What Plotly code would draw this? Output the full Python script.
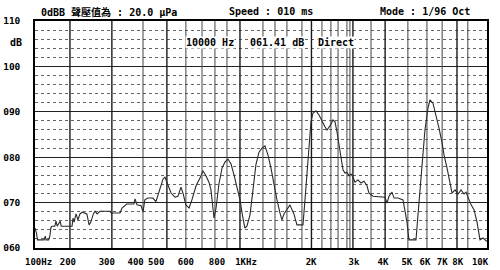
import math
import plotly.graph_objects as go

# ---- data ----
freq_hz = [148, 150, 151.5, 161, 163, 164, 168, 170, 171.5, 173, 178, 180, 182, 187, 189,
           209, 211, 213, 217, 221, 225, 230, 240, 245, 249, 255, 259, 264, 271, 298, 301,
           327, 333, 342, 348, 372, 376, 383, 398, 405, 412, 424, 444, 457, 466, 474, 488,
           497, 511, 526, 546, 561, 577, 588, 604, 622, 639, 664, 689, 708, 728, 749, 763,
           777, 785, 800, 822, 846, 869, 894, 920, 946, 972, 1000, 1028, 1047, 1067, 1098,
           1129, 1160, 1194, 1228, 1262, 1298, 1335, 1373, 1412, 1452, 1479, 1507, 1549,
           1594, 1624, 1654, 1701, 1799, 1833, 1868, 1903, 1938, 1975, 2031, 2089, 2148,
           2209, 2250, 2313, 2380, 2425, 2470, 2517, 2564, 2612, 2661, 2712, 2762, 2815,
           2868, 2922, 3005, 3090, 3177, 3267, 3328, 3455, 3865, 3937, 4011, 4125, 4204,
           4363, 4571, 4656, 4743, 4831, 5159, 5256, 5354, 5454, 5608, 5768, 5876, 6044,
           6217, 6393, 6582, 6699, 6890, 7086, 7220, 7424, 7634, 7850, 8074, 8226, 8383,
           8623, 8869, 9111, 9369, 9637, 9818, 10000]
level_db = [64.4, 63.3, 61.8, 61.8, 62.6, 61.8, 61.8, 62.6, 64.4, 64.8, 64.8, 65.9, 64.8, 65.9, 64.8,
            64.8, 66.6, 65.7, 67.5, 66.2, 67.5, 67.9, 67.5, 65.1, 65.7, 67.5, 68.1, 67.5, 68.1, 68.1, 67.7,
            67.7, 68.8, 69.3, 69.7, 69.7, 70.8, 69.5, 69.3, 67.9, 70.6, 71.0, 71.0, 70.2, 71.7, 73.2, 75.2,
            75.6, 73.9, 72.1, 71.2, 71.4, 73.4, 72.1, 69.5, 68.8, 70.6, 73.7, 75.4, 77.0, 75.9, 74.5, 72.8,
            69.5, 66.6, 68.8, 74.1, 77.6, 78.9, 79.6, 78.5, 76.1, 73.2, 70.6, 66.6, 64.4, 64.8, 67.3,
            72.8, 78.3, 81.1, 82.0, 82.5, 80.5, 77.6, 73.9, 70.6, 67.7, 66.2, 67.5, 68.4,
            69.5, 68.4, 67.5, 65.1, 65.1, 70.6, 77.2, 83.8, 87.8, 89.7, 90.2, 89.3, 87.8,
            86.7, 86.0, 86.9, 88.2, 87.8, 85.6, 82.7, 79.4, 77.2, 76.5, 76.7, 75.9, 76.3,
            75.6, 74.5, 75.0, 74.3, 74.7, 73.7, 72.1, 71.4, 71.2, 69.9, 71.4, 72.3, 71.0,
            71.0, 70.6, 68.4, 65.7, 61.8, 61.8, 67.3, 72.8, 79.4, 86.0, 90.8, 92.6, 91.9,
            89.3, 86.4, 83.1, 80.5, 77.6, 73.9, 72.1, 72.8, 71.9, 72.8, 71.9, 72.3, 71.0,
            69.5, 68.4, 65.7, 61.8, 62.2, 61.8, 61.41]

x_tick_pos = [153, 201, 289, 378, 458, 604, 807, 1058, 1940, 2894, 3790, 4737, 5605, 6583, 7616, 9375]
x_tick_text = ["100Hz", "200", "300", "400", "500", "600", "800", "1KHz",
               "2K", "3k", "4K", "5K", "6K", "7K", "8K", "10K"]
y_tick_vals = [60, 70, 80, 90, 100, 110]
y_tick_text = ["060", "070", "080", "090", "100", "110"]

grid_major_hz = [205, 303, 506, 1000, 1947, 2866, 3869, 7560]
grid_minor_hz = [405, 604, 702, 792, 886, 1239, 1386, 1549, 1782, 2147, 2334, 2495,
                 2710, 2787, 3392, 4783, 5713, 6582, 8363]

x_min_hz, x_max_hz = 148, 10000
y_min_db, y_max_db = 60, 110

MONO = "DejaVu Sans Mono, Noto Sans CJK TC, monospace"


def vlines(freqs):
    xs, ys = [], []
    for f in freqs:
        xs += [f, f, None]
        ys += [y_min_db, y_max_db, None]
    return xs, ys


fig = go.Figure()
mx, my = vlines(grid_major_hz)
fig.add_trace(go.Scatter(x=mx, y=my, mode="lines", line=dict(color="#1a1a1a", width=1.4),
                         hoverinfo="skip", showlegend=False))
nx, ny = vlines(grid_minor_hz)
fig.add_trace(go.Scatter(x=nx, y=ny, mode="lines", line=dict(color="#444444", width=1),
                         hoverinfo="skip", showlegend=False))
fig.add_trace(go.Scatter(x=freq_hz, y=level_db, mode="lines",
                         line=dict(color="#2a2a2a", width=1.1), showlegend=False))

fig.update_xaxes(type="log", range=[math.log10(x_min_hz), math.log10(x_max_hz)],
                 tickvals=x_tick_pos, ticktext=x_tick_text, showgrid=False, tickangle=0,
                 automargin=False,
                 showline=True, linecolor="black", linewidth=1.5, mirror=True,
                 ticks="", ticklabelstandoff=4,
                 tickfont=dict(family=MONO, size=9, color="black", weight="bold"))
fig.update_yaxes(range=[y_min_db, y_max_db], tickvals=y_tick_vals, ticktext=y_tick_text,
                 automargin=False,
                 showgrid=True, gridcolor="#222222", gridwidth=1,
                 minor=dict(dtick=2, showgrid=True, griddash="dot", gridcolor="#666666", gridwidth=1),
                 showline=True, linecolor="black", linewidth=1.5, mirror=True,
                 ticks="", ticklabelstandoff=11, zeroline=False,
                 tickfont=dict(family=MONO, size=9.5, color="black", weight="bold"))

W_PLOT, H_PLOT, L, T = 452, 227, 35, 21


def px(x):
    return (x - L) / W_PLOT


def py(y):
    return (T + H_PLOT - y) / H_PLOT


afont = dict(family=MONO, size=10, color="black", weight="bold")
ann = [
    dict(text="0dBB 聲壓值為 : 20.0 μPa", x=px(39), y=py(12)),
    dict(text="Speed : 010 ms", x=px(227), y=py(12)),
    dict(text="Mode : 1/96 Oct", x=px(378), y=py(12)),
    dict(text="dB", x=px(8), y=py(42)),
]
for a in ann:
    fig.add_annotation(xref="paper", yref="paper", xanchor="left", yanchor="middle",
                       showarrow=False, font=afont, **a)
for txt, xl in [("10000 Hz", 185), ("061.41 dB", 249), ("Direct", 317)]:
    fig.add_annotation(xref="paper", yref="paper", xanchor="left", yanchor="middle",
                       x=px(xl), y=py(42), text=txt, showarrow=False, font=afont,
                       bgcolor="white", borderpad=0)

fig.update_layout(width=500, height=270, margin=dict(l=35, r=13, t=21, b=22),
                  paper_bgcolor="white", plot_bgcolor="white")
fig.write_html("out.html")
